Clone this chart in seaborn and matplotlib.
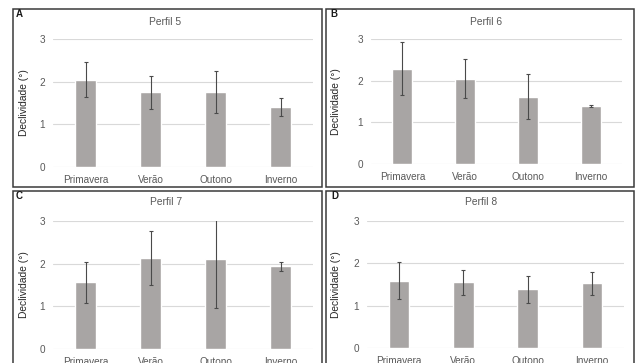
import numpy as np
import pandas as pd
import matplotlib
matplotlib.use("Agg")
import matplotlib.pyplot as plt
import seaborn as sns
from matplotlib.patches import Rectangle

# --- data ---
seasons = ["Primavera", "Verão", "Outono", "Inverno"]
titles = ["Perfil 5", "Perfil 6", "Perfil 7", "Perfil 8"]
letters = ["A", "B", "C", "D"]

mean_p5 = [2.05, 1.75, 1.76, 1.41]
err_p5 = [0.40, 0.39, 0.50, 0.21]
mean_p6 = [2.29, 2.05, 1.62, 1.39]
err_p6 = [0.63, 0.47, 0.55, 0.03]
mean_p7 = [1.56, 2.14, 2.12, 1.94]
err_p7 = [0.49, 0.63, 1.16, 0.11]
mean_p8 = [1.59, 1.55, 1.39, 1.53]
err_p8 = [0.44, 0.30, 0.32, 0.27]

means = [mean_p5, mean_p6, mean_p7, mean_p8]
errs = [err_p5, err_p6, err_p7, err_p8]

W, H = 635, 363
sns.set_style("white")
plt.rcParams['font.family'] = ['Liberation Sans', 'DejaVu Sans']

fig = plt.figure(figsize=(W / 100, H / 100), dpi=100)

# layout in pixels: plot area (l, r, t, b), box (l, r, t, b), title xy, letter xy, ylabel x (right edge)
layout = [
    dict(plot=(53, 313, 39, 167), box=(13, 322, 9, 187), title=(165, 22), letter=(16, 14), ylab=29),
    dict(plot=(371, 622, 39, 164), box=(326, 634, 9, 187), title=(486, 22), letter=(330, 14), ylab=341),
    dict(plot=(53, 313, 221, 349), box=(13, 322, 191, 372), title=(166, 202), letter=(16, 196), ylab=29),
    dict(plot=(367, 624, 221, 348), box=(326, 634, 191, 372), title=(481, 202), letter=(331, 196), ylab=341),
]

bar_color = "#A8A5A4"
text_gray = "#595959"

for i, lay in enumerate(layout):
    l, r, t, b = lay["plot"]
    ax = fig.add_axes([l / W, 1 - b / H, (r - l) / W, (b - t) / H])
    df = pd.DataFrame({"season": seasons, "value": means[i], "err": errs[i]})
    sns.barplot(data=df, x="season", y="value", color=bar_color, saturation=1,
                width=0.32, errorbar=None, ax=ax, zorder=2)
    ax.errorbar(np.arange(len(seasons)), df["value"], yerr=df["err"], fmt="none",
                ecolor="#4a4a4a", elinewidth=0.8, capsize=1.6, capthick=0.8, zorder=3)
    ax.set_ylim(0, 3)
    ax.set_xlim(-0.5, 3.5)
    ax.set_yticks([0, 1, 2, 3])
    ax.yaxis.grid(True, color="#D9D9D9", linewidth=0.8, zorder=0)
    ax.set_axisbelow(True)
    for s in ax.spines.values():
        s.set_visible(False)
    ax.tick_params(axis="both", length=0, labelsize=7.2, colors=text_gray)
    ax.tick_params(axis="x", pad=6)
    ax.tick_params(axis="y", pad=5.5)
    ax.set_xlabel("")
    ax.set_ylabel("Declividade (°)", fontsize=7.4, color="#262626")
    ax.yaxis.set_label_coords((lay["ylab"] - l) / (r - l), 0.5)

    bl, br, bt, bb = lay["box"]
    fig.patches.append(Rectangle((bl / W, 1 - bb / H), (br - bl) / W, (bb - bt) / H,
                                 transform=fig.transFigure, fill=False,
                                 edgecolor="#3a3a3a", linewidth=1.1))
    tx, ty = lay["title"]
    fig.text(tx / W, 1 - ty / H, titles[i], ha="center", va="center",
             fontsize=7.4, color=text_gray)
    lx, ly = lay["letter"]
    fig.text(lx / W, 1 - ly / H, letters[i], ha="left", va="center",
             fontsize=7, fontweight="bold", color="#1a1a1a")

fig.savefig("out.png", dpi=100, facecolor="white")
